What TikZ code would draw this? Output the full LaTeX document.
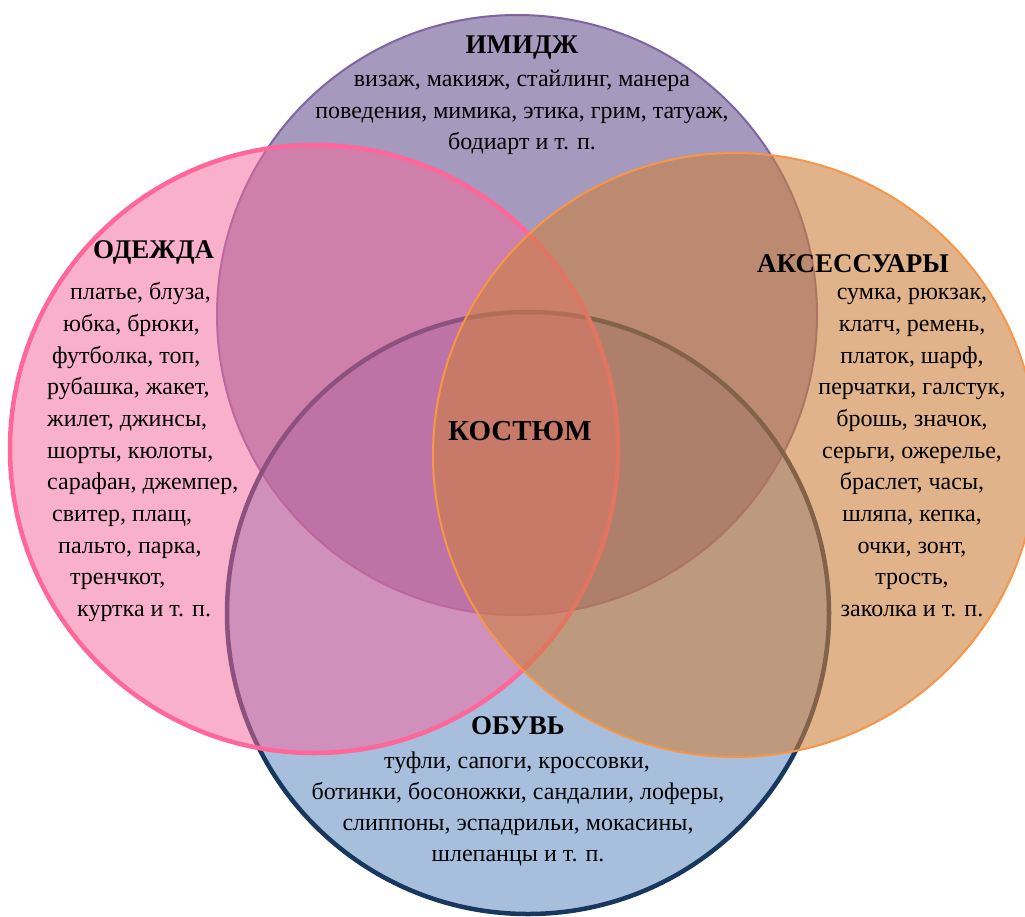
\documentclass[tikz,border=0pt]{standalone}
\usepackage{fontspec}
\setmainfont{Liberation Serif}
\definecolor{bluefill}{RGB}{167,191,221}
\definecolor{bluestroke}{RGB}{23,55,94}
\definecolor{purpfill}{RGB}{105,85,145}
\definecolor{purpstroke}{RGB}{128,100,162}
\definecolor{pinkfill}{RGB}{244,105,157}
\definecolor{pinkstroke}{RGB}{255,102,153}
\definecolor{orangefill}{RGB}{204,128,62}
\definecolor{orangestroke}{RGB}{247,150,70}
\tikzset{
  titletext/.style={font=\fontsize{27}{31}\selectfont\bfseries, inner sep=0pt, anchor=base},
  bigtitle/.style={font=\fontsize{29}{33}\selectfont\bfseries, inner sep=0pt, anchor=base},
  bodytext/.style={font=\fontsize{24}{31}\selectfont, inner sep=0pt, anchor=base},
  bodyleft/.style={bodytext, anchor=base west},
}
\begin{document}
\begin{tikzpicture}[x=1pt,y=-1pt]
\useasboundingbox (0,0) rectangle (1025,916);
% circles
\fill[bluefill] (528,613) circle (301);
\fill[purpfill, fill opacity=0.6] (517,315) circle (300);
\draw[purpstroke, line width=2pt] (517,315) circle (300);
\draw[bluestroke, line width=4.5pt] (528,613) circle (301);
\fill[pinkfill, fill opacity=0.53] (314,449) circle (304);
\draw[pinkstroke, line width=4.5pt] (314,449) circle (304);
\fill[orangefill, fill opacity=0.6] (735,455) circle (302);
\draw[orangestroke, line width=2pt] (735,455) circle (302);

% ИМИДЖ
\node[titletext] (imt) at (522,53) {ИМИДЖ};
\node[bodytext] (im1) at (522,86) {визаж, макияж, стайлинг, манера};
\node[bodytext] (im2) at (522,118) {поведения, мимика, этика, грим, татуаж,};
\node[bodytext] (im3) at (522,149) {бодиарт и т. п.};

% ОДЕЖДА
\node[titletext, anchor=base west] (odt) at (93,258) {ОДЕЖДА};
\node[bodyleft] (od1) at (70,299) {платье, блуза,};
\node[bodyleft] (od2) at (63,331) {юбка, брюки,};
\node[bodyleft] (od3) at (52,363) {футболка, топ,};
\node[bodyleft] (od4) at (47,394) {рубашка, жакет,};
\node[bodyleft] (od5) at (47,426) {жилет, джинсы,};
\node[bodyleft] (od6) at (47,458) {шорты, кюлоты,};
\node[bodyleft] (od7) at (47,489) {сарафан, джемпер,};
\node[bodyleft] (od8) at (52,521) {свитер, плащ,};
\node[bodyleft] (od9) at (58,553) {пальто, парка,};
\node[bodyleft] (od10) at (70,584) {тренчкот,};
\node[bodyleft] (od11) at (77,616) {куртка и т. п.};

% АКСЕССУАРЫ
\node[titletext] (akt) at (853,272) {АКСЕССУАРЫ};
\node[bodytext] (ak1) at (912,299) {сумка, рюкзак,};
\node[bodytext] (ak2) at (912,331) {клатч, ремень,};
\node[bodytext] (ak3) at (912,363) {платок, шарф,};
\node[bodytext] (ak4) at (912,394) {перчатки, галстук,};
\node[bodytext] (ak5) at (912,426) {брошь, значок,};
\node[bodytext] (ak6) at (912,458) {серьги, ожерелье,};
\node[bodytext] (ak7) at (912,489) {браслет, часы,};
\node[bodytext] (ak8) at (912,521) {шляпа, кепка,};
\node[bodytext] (ak9) at (912,553) {очки, зонт,};
\node[bodytext] (ak10) at (912,584) {трость,};
\node[bodytext] (ak11) at (912,616) {заколка и т. п.};

% КОСТЮМ
\node[bigtitle] (kos) at (520,440) {КОСТЮМ};

% ОБУВЬ
\node[titletext] (obt) at (518,734) {ОБУВЬ};
\node[bodytext] (ob1) at (517,768) {туфли, сапоги, кроссовки,};
\node[bodytext] (ob2) at (518,799) {ботинки, босоножки, сандалии, лоферы,};
\node[bodytext] (ob3) at (518,830) {слиппоны, эспадрильи, мокасины,};
\node[bodytext] (ob4) at (518,861) {шлепанцы и т. п.};
\end{tikzpicture}
\end{document}
